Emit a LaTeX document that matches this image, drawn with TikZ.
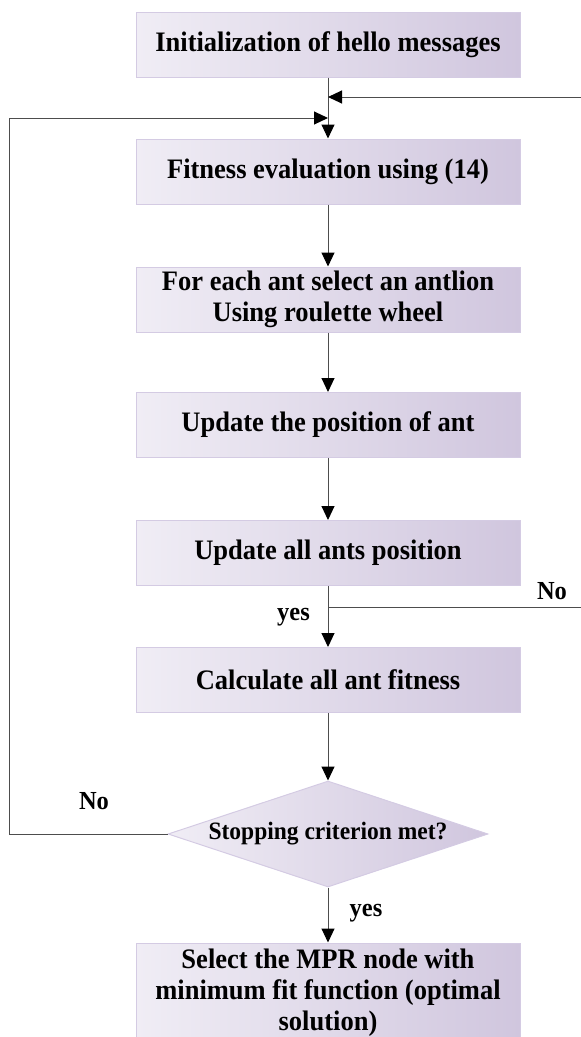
\documentclass[tikz,border=0pt]{standalone}
\usepackage{fontspec}
\setmainfont{Liberation Serif}[FakeStretch=0.94]
\usetikzlibrary{arrows.meta,shapes.geometric}
\definecolor{boxL}{HTML}{F0EDF5}
\definecolor{boxR}{HTML}{D0C6DE}
\definecolor{boxB}{HTML}{D4CBE3}
\definecolor{lineC}{HTML}{4D4D4D}
\begin{document}
\begin{tikzpicture}[x=1pt,y=-1pt,
  procbox/.style={rectangle, left color=boxL, right color=boxR, draw=boxB, line width=1pt,
    minimum width=384pt, minimum height=65pt, inner sep=0pt, align=center,
    font=\bfseries\fontsize{28.2}{31}\selectfont},
  decbox/.style={diamond, aspect=3, left color=boxL, right color=boxR, draw=boxB, line width=1pt,
    minimum width=320pt, minimum height=106pt, inner sep=0pt,
    font=\bfseries\fontsize{25}{28}\selectfont},
  conn/.style={draw=lineC, line width=1pt},
  arr/.style={conn, -{Triangle[length=14pt,width=13pt,color=black]}},
  lbl/.style={font=\bfseries\fontsize{26}{28}\selectfont, anchor=base, inner sep=0pt}]
\useasboundingbox (0,0) rectangle (581,1037);
\clip (0,0) rectangle (581,1037);

\node[procbox] (b1) at (328,44.5) {Initialization of hello messages};
\node[procbox] (b2) at (328,171.5) {Fitness evaluation using (14)};
\node[procbox] (b3) at (328,299.5) {For each ant select an antlion\\Using roulette wheel};
\node[procbox] (b4) at (328,425) {Update the position of ant};
\node[procbox] (b5) at (328,553) {Update all ants position};
\node[procbox] (b6) at (328,680) {Calculate all ant fitness};
\node[decbox] (d) at (328,834) {Stopping criterion met?};
\node[procbox, minimum height=100pt] (b7) at (328,993) {Select the MPR node with\\minimum fit function (optimal\\solution)};

\coordinate (rin) at (581,97);
\coordinate (lb) at (9,834);
\coordinate (lt) at (9,118);
\coordinate (br) at (328,607);
\coordinate (rout) at (581,607);

\draw[arr] (b1) -- (b2);
\draw[arr] (rin) -- (b1.south |- rin);
\draw[arr] (d.west) -- (lb) -- (lt) -- (b1.south |- lt);
\draw[arr] (b2) -- (b3);
\draw[arr] (b3) -- (b4);
\draw[arr] (b4) -- (b5);
\draw[arr] (b5) -- (b6);
\draw[conn] (br) -- (rout);
\draw[arr] (b6) -- (d);
\draw[arr] (d) -- (b7);

\node[lbl] (no1) at (552,599) {No};
\node[lbl] (yes1) at (293.5,620) {yes};
\node[lbl] (no2) at (94,809) {No};
\node[lbl] (yes2) at (366,916) {yes};
\end{tikzpicture}
\end{document}
